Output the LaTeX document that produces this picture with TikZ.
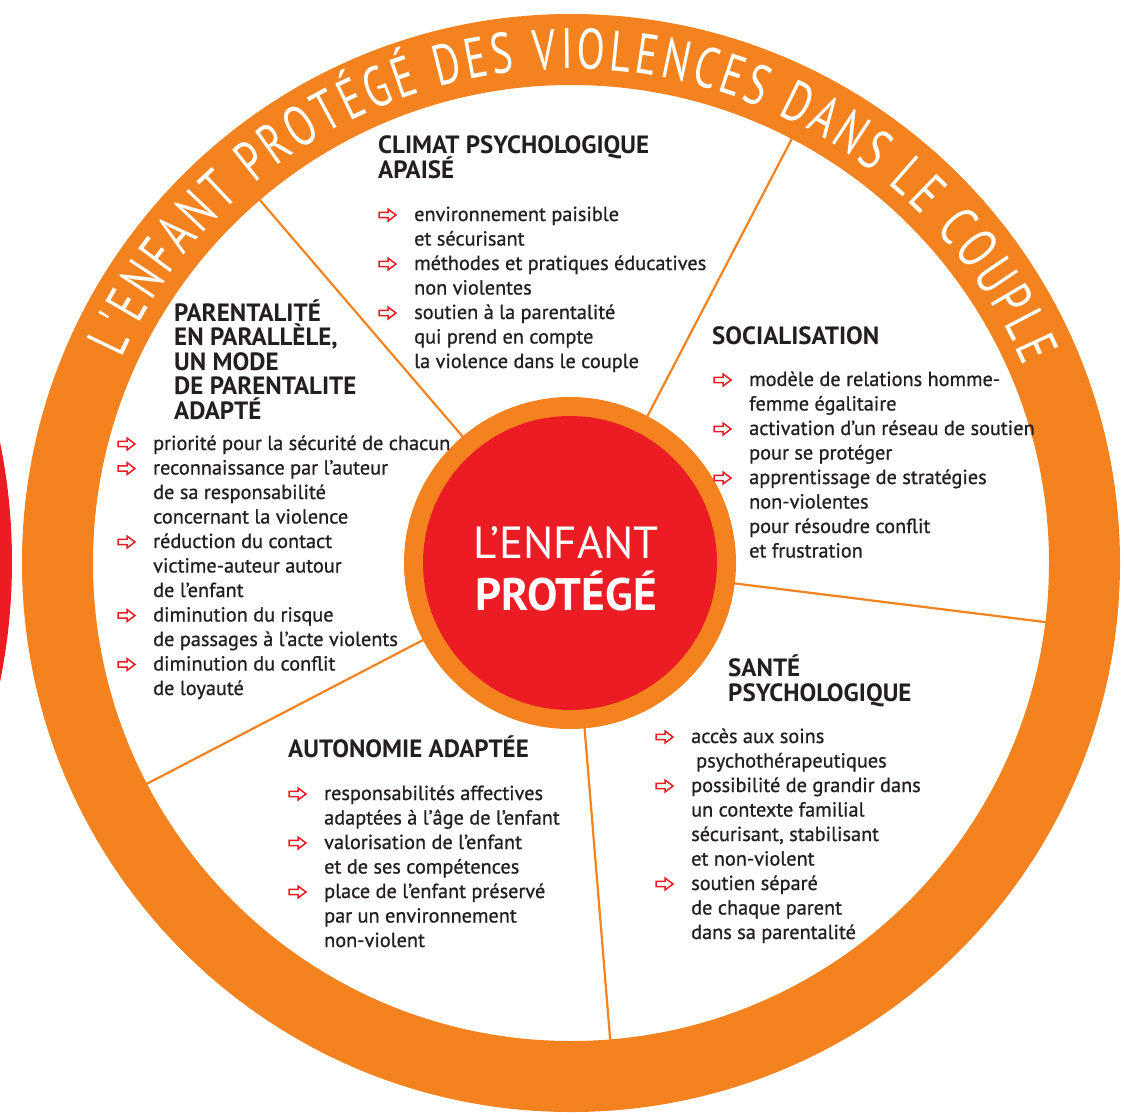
\documentclass[tikz,border=0pt]{standalone}
\usepackage{fontspec}
\setmainfont{PT Sans}
\newfontfamily\bodyfont[FakeBold=0.8]{PT Sans}
\newfontfamily\ringfont[FakeStretch=0.72]{PT Sans}
\usetikzlibrary{decorations.text,calc}
\definecolor{ringorange}{HTML}{F4831F}
\definecolor{corered}{HTML}{EC1C24}
\definecolor{txt}{HTML}{231F20}
\begin{document}
\begin{tikzpicture}[x=1pt,y=-1pt,
  body/.style={font=\bodyfont\fontsize{20.3}{24}\selectfont, text=txt, inner sep=0pt, anchor=base west},
  head/.style={font=\bfseries\fontsize{25}{26}\selectfont, text=txt, inner sep=0pt, anchor=base west},
  spoke/.style={draw=ringorange, line width=2.2pt},
  bul/.pic={\draw[corered,line width=1.5pt,line join=miter,fill=white]
    (0,-3.4)--(9,-3.4)--(9,0)--(17,-6)--(9,-12)--(9,-8.6)--(0,-8.6)--cycle;}]
\useasboundingbox (0,0) rectangle (1124,1114);
\clip (0,0) rectangle (1124,1114);
\fill[white] (0,0) rectangle (1124,1114);
\coordinate (c) at (571,563);
% neighbouring red disc
\fill[corered] (-588,562) circle[radius=600];
% spokes
\foreach \a [count=\i] in {-130.6,-62.5,7.1,85.3,152.5}
  \coordinate (sp\i) at ($(c)+(\a:500)$);
\foreach \i in {1,...,5} \draw[spoke] (c) -- (sp\i);
% ring
\fill[ringorange, even odd rule] (c) circle[radius=549] (c) circle[radius=478];
\path[decorate, decoration={text along path, text color=white, text align={fit to path},
  text={|\ringfont\fontsize{57}{57}\selectfont|L'ENFANT PROTÉGÉ DES VIOLENCES DANS LE COUPLE}}]
  ($(c)+(-155.5:494)$) arc[start angle=-155.5, end angle=-23.5, radius=494];
% hub
\node[circle, fill=ringorange, minimum size=332, inner sep=0pt] (hub) at (570,563) {};
\fill[corered] (hub.center) circle[radius=147];
\node[font=\fontsize{45}{45}\selectfont, text=white, inner sep=0pt, anchor=base] (t1) at (566,558) {L’ENFANT};
\node[font=\bfseries\fontsize{45.5}{45}\selectfont, text=white, inner sep=0pt, anchor=base] (t2) at (566,610) {PROTÉGÉ};
% headings
\node[head] (h1a) at (378,153) {CLIMAT PSYCHOLOGIQUE};
\node[head] (h1b) at (378,178) {APAISÉ};
\foreach \t [count=\i] in {PARENTALITÉ, {EN PARALLÈLE,}, UN MODE, DE PARENTALITE, ADAPTÉ}
  \node[head] (h2\i) at (174,{321+(\i-1)*24.5}) {\t};
\node[head] (h3) at (712,344) {SOCIALISATION};
\node[head] (h4a) at (728,676) {SANTÉ};
\node[head] (h4b) at (728,701) {PSYCHOLOGIQUE};
\node[head] (h5) at (288,757) {AUTONOMIE ADAPTÉE};
% lists
\foreach \b/\t [count=\i] in {1/environnement paisible, 0/et sécurisant, 1/méthodes et pratiques éducatives, 0/non violentes, 1/soutien à la parentalité, 0/qui prend en compte, 0/la violence dans le couple}{
  \node[body] (la\i) at (414,{221+(\i-1)*24.5}) {\t};
  \ifnum\b=1 \pic at ($(la\i.base west)+(-35,0)$) {bul}; \fi}
\foreach \b/\t [count=\i] in {1/priorité pour la sécurité de chacun, 1/reconnaissance par l’auteur, 0/de sa responsabilité, 0/concernant la violence, 1/réduction du contact, 0/victime-auteur autour, 0/de l’enfant, 1/diminution du risque, 0/de passages à l’acte violents, 1/diminution du conflit, 0/de loyauté}{
  \node[body] (lb\i) at (153,{450+(\i-1)*24.5}) {\t};
  \ifnum\b=1 \pic at ($(lb\i.base west)+(-35,0)$) {bul}; \fi}
\foreach \b/\t [count=\i] in {1/modèle de relations homme-, 0/femme égalitaire, 1/activation d’un réseau de soutien, 0/pour se protéger, 1/apprentissage de stratégies, 0/non-violentes, 0/pour résoudre conflit, 0/et frustration}{
  \node[body] (lc\i) at (749,{386+(\i-1)*24.5}) {\t};
  \ifnum\b=1 \pic at ($(lc\i.base west)+(-35,0)$) {bul}; \fi}
\foreach \b/\t [count=\i] in {1/accès aux soins, 0/{\hspace{5pt}psychothérapeutiques}, 1/possibilité de grandir dans, 0/un contexte familial, 0/{sécurisant, stabilisant}, 0/et non-violent, 1/soutien séparé, 0/de chaque parent, 0/dans sa parentalité}{
  \node[body] (ld\i) at (691,{743+(\i-1)*24.5}) {\t};
  \ifnum\b=1 \pic at ($(ld\i.base west)+(-35,0)$) {bul}; \fi}
\foreach \b/\t [count=\i] in {1/responsabilités affectives, 0/adaptées à l’âge de l’enfant, 1/valorisation de l’enfant, 0/et de ses compétences, 1/place de l’enfant préservé, 0/par un environnement, 0/non-violent}{
  \node[body] (le\i) at (324,{800+(\i-1)*24.5}) {\t};
  \ifnum\b=1 \pic at ($(le\i.base west)+(-35,0)$) {bul}; \fi}
\end{tikzpicture}
\end{document}
